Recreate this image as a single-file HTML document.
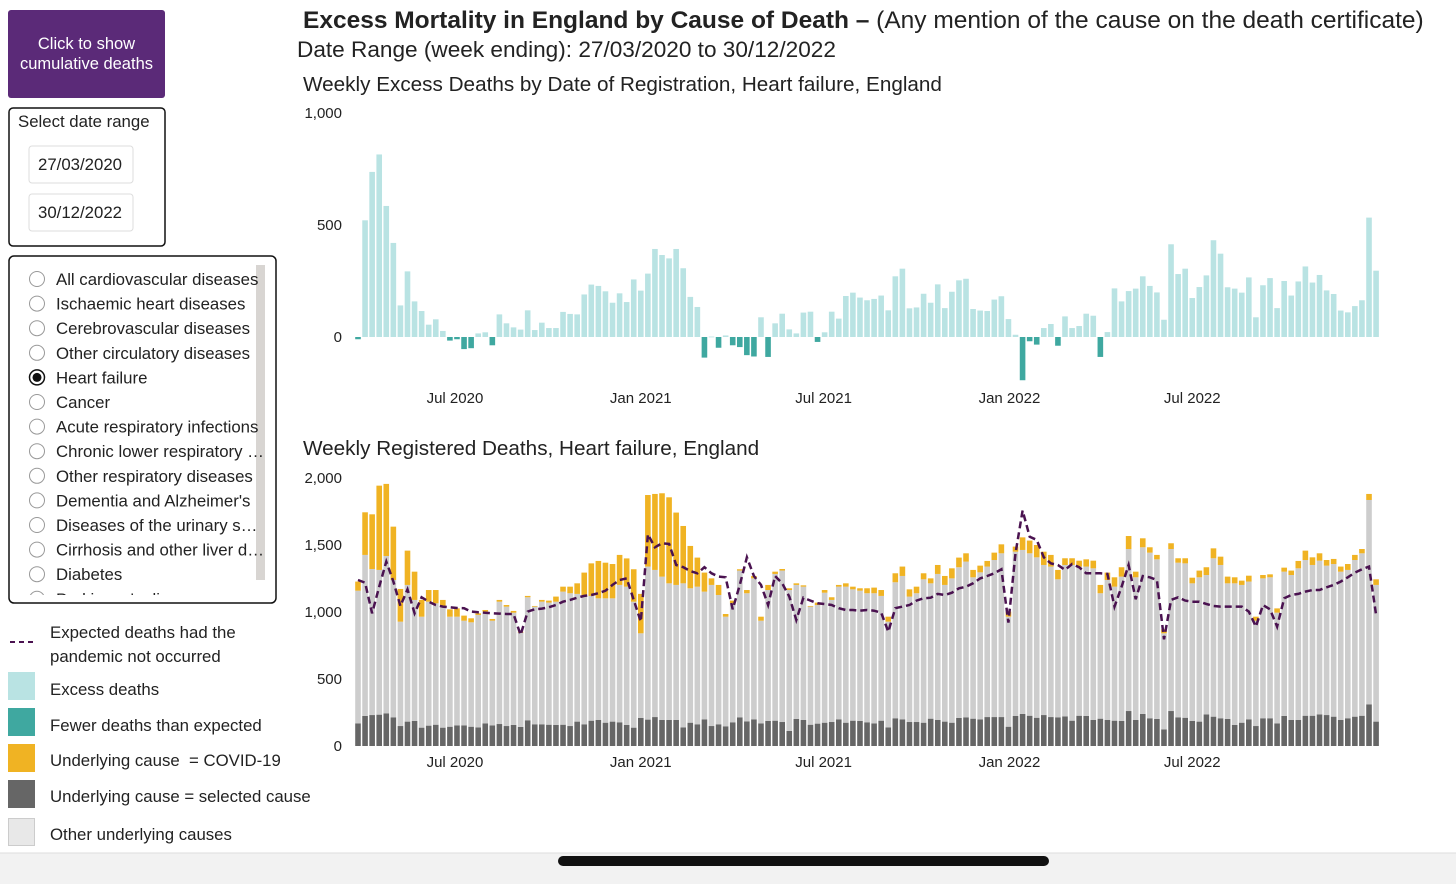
<!DOCTYPE html>
<html><head><meta charset="utf-8"><style>
body{margin:0;background:#fff;font-family:"Liberation Sans",Arial,sans-serif;}
svg{display:block}
text{font-family:"Liberation Sans",Arial,sans-serif;fill:#222}
</style></head><body>
<svg id="s" width="1456" height="884" viewBox="0 0 1456 884">
<g>
<rect x="8" y="10" width="157" height="88" rx="3" fill="#5b2a78"/>
<text x="86.5" y="49" text-anchor="middle" font-size="16.5" style="fill:#fff">Click to show</text>
<text x="86.5" y="69" text-anchor="middle" font-size="16.5" style="fill:#fff">cumulative deaths</text>
</g>
<g>
<rect x="9" y="108" width="156" height="138" rx="4" fill="#fff" stroke="#111" stroke-width="1.5"/>
<text x="18" y="127" font-size="16.8">Select date range</text>
<g><rect x="29" y="146" width="104" height="37" rx="3" fill="#fff" stroke="#ddd"/><text x="38" y="170" font-size="16.8">27/03/2020</text></g>
<g><rect x="29" y="194" width="104" height="37" rx="3" fill="#fff" stroke="#ddd"/><text x="38" y="218" font-size="16.8">30/12/2022</text></g>
</g>
<g>
<rect x="9" y="256" width="267" height="347" rx="5" fill="#fff" stroke="#111" stroke-width="1.5"/>
<rect x="256" y="265" width="9" height="315" fill="#d8d5d2"/>
<g id="radios"></g>
</g>
<g>
<line x1="10" y1="642" x2="37" y2="642" stroke="#4a1250" stroke-width="2" stroke-dasharray="5,4"/>
<text x="50" y="638" font-size="16.8">Expected deaths had the</text>
<text x="50" y="662" font-size="16.8">pandemic not occurred</text>
<rect x="8" y="672" width="27" height="28" fill="#b9e3e3"/><text x="50" y="695" font-size="16.8">Excess deaths</text>
<rect x="8" y="708" width="27" height="28" fill="#3fa8a0"/><text x="50" y="731" font-size="16.8">Fewer deaths than expected</text>
<rect x="8" y="744" width="27" height="28" fill="#f0b323"/><text x="50" y="766" font-size="16.8" xml:space="preserve">Underlying cause  = COVID-19</text>
<rect x="8" y="780" width="27" height="28" fill="#666"/><text x="50" y="802" font-size="16.8">Underlying cause = selected cause</text>
<rect x="8.5" y="818.5" width="26" height="27" fill="#e8e8e8" stroke="#ccc"/><text x="50" y="840" font-size="16.8">Other underlying causes</text>
</g>
<text x="303" y="28" font-size="24.5"><tspan font-weight="bold">Excess Mortality in England by Cause of Death –</tspan> (Any mention of the cause on the death certificate)</text>
<text x="297" y="57" font-size="22.6">Date Range (week ending): 27/03/2020 to 30/12/2022</text>
<text x="303" y="91" font-size="20.7">Weekly Excess Deaths by Date of Registration, Heart failure, England</text>
<text x="303" y="455" font-size="20.7">Weekly Registered Deaths, Heart failure, England</text>
<g id="gtop"></g>
<g id="gbot"></g>
<rect x="0" y="853" width="1456" height="31" fill="#f2f2f2"/>
<line x1="0" y1="853" x2="1456" y2="853" stroke="#ddd"/>
<rect x="558" y="856" width="491" height="10" rx="5" fill="#111"/>
</svg>
<script>
const causes=["All cardiovascular diseases","Ischaemic heart diseases","Cerebrovascular diseases","Other circulatory diseases","Heart failure","Cancer","Acute respiratory infections","Chronic lower respiratory …","Other respiratory diseases","Dementia and Alzheimer's","Diseases of the urinary s…","Cirrhosis and other liver d…","Diabetes","Parkinson's disease"];
const excess=[-10,521,737,815,585,420,141,293,159,116,55,79,27,-16,-10,-54,-50,16,21,-37,101,61,43,33,119,31,64,40,40,112,103,101,190,234,228,204,153,195,156,257,207,283,393,366,351,393,307,179,134,-92,2,-48,7,-37,-45,-81,-87,88,-89,61,104,34,16,109,113,-22,21,113,82,183,198,176,164,170,185,119,271,305,128,132,193,153,235,129,202,253,260,125,118,116,167,182,80,10,-193,-19,-34,40,58,-39,92,40,49,104,95,-89,22,217,159,205,216,271,228,199,77,414,281,305,174,223,275,432,372,222,216,198,266,88,231,263,129,250,185,248,315,243,277,208,192,118,110,138,164,533,296];
const selectedCause=[169,224,231,234,244,214,149,182,187,137,152,159,137,144,154,154,144,139,169,154,164,149,157,142,192,162,162,159,157,159,149,182,162,189,194,174,182,177,157,137,209,197,216,194,194,194,139,174,162,199,149,162,147,177,214,184,199,169,187,189,179,112,202,194,159,167,174,179,199,174,189,187,177,169,189,139,207,199,179,179,174,204,194,182,174,209,214,204,199,216,216,216,144,224,239,226,211,231,216,214,221,189,226,224,194,204,194,189,187,261,194,239,207,202,124,261,214,211,187,182,236,219,207,202,157,174,199,149,207,207,169,224,194,194,226,226,236,231,219,194,207,219,226,311,182];
const otherCauses=[990,1202,1090,1080,1174,1025,779,1020,903,828,925,906,903,821,811,781,779,839,834,781,913,891,838,704,918,878,915,911,920,993,991,953,965,931,908,928,920,1025,1032,940,632,1142,1098,1070,1020,1008,1075,1003,1027,953,1053,965,818,888,1095,956,1052,766,977,1095,1130,1052,1000,995,881,885,970,911,990,1015,980,972,963,971,931,789,1015,1070,936,961,1070,1010,1090,1020,1077,1125,1162,1055,1097,1123,1172,1222,821,1226,1224,1212,1197,1120,1123,1030,1130,1162,1113,1115,1132,936,1045,1000,1077,1209,1065,1244,1236,1191,717,1209,1154,1152,1027,1077,1040,1182,1144,1012,1057,1028,1028,786,1044,1052,826,1077,1082,1132,1162,1125,1147,1115,1139,1107,1107,1169,1212,1525,1020];
const covid=[68,318,408,629,538,398,244,256,211,125,87,99,50,55,62,38,30,12,12,13,13,12,13,7,10,5,13,15,38,37,49,79,167,243,279,266,256,224,211,242,294,534,567,622,642,540,428,316,217,142,49,75,20,20,10,24,18,30,38,17,12,13,12,10,5,18,20,20,13,25,20,18,37,42,44,37,67,70,54,49,45,37,67,67,75,72,62,55,50,42,55,67,38,38,94,95,92,99,87,70,50,50,44,54,57,62,55,70,70,97,42,67,40,33,30,43,33,38,42,50,58,74,62,50,45,32,44,30,25,22,32,30,33,55,70,57,55,42,38,38,44,38,32,45,42];
const expected=[1239,1219,990,1189,1376,1227,1045,1169,990,1110,1077,1052,1040,1035,1030,1028,1003,998,995,990,988,985,985,829,1003,1020,1025,1035,1052,1077,1090,1107,1120,1127,1140,1159,1202,1239,1251,1090,928,1580,1483,1513,1508,1351,1334,1306,1289,1334,1289,1264,1259,1020,1202,1408,1269,1202,1052,1269,1214,1115,940,1107,1085,1065,1060,1052,1028,1015,1015,1010,1015,1010,995,853,1028,1040,1052,1085,1102,1107,1135,1127,1144,1177,1189,1214,1251,1269,1289,1319,921,1438,1757,1562,1538,1408,1363,1351,1314,1358,1334,1289,1289,1289,1284,1040,1189,1351,1095,1269,1259,1239,796,1090,1110,1085,1077,1077,1060,1045,1040,1040,1040,1040,1003,891,1052,1020,891,1102,1127,1135,1152,1164,1164,1184,1202,1227,1259,1294,1319,1339,978];
const topTicks=[0,500,1000];
const topTickLabels=["0","500","1,000"];
const botTicks=[0,500,1000,1500,2000];
const botTickLabels=["0","500","1,000","1,500","2,000"];
const monthTicks=["2020-07-01","2021-01-01","2021-07-01","2022-01-01","2022-07-01"];
const monthLabels=["Jul 2020","Jan 2021","Jul 2021","Jan 2022","Jul 2022"];
const startDate="2020-03-27";

const NS="http://www.w3.org/2000/svg";
function mk(tag,attrs,parent){const e=document.createElementNS(NS,tag);for(const k in attrs)e.setAttribute(k,attrs[k]);parent.appendChild(e);return e;}
const xPos=i=>358+i*7.07;
const xDate=d=>xPos((Date.parse(d)-Date.parse(startDate))/86400000/7);
const yTop=v=>337-v*0.224;
const yBot=v=>746-v*0.134;
const BW=5.6;

const svgEl=document.getElementById('s');
const defs=mk('defs',{},svgEl);
const cp=mk('clipPath',{id:'clipList'},defs);mk('rect',{x:10,y:257,width:265,height:338},cp);
const rg=document.getElementById('radios');
rg.setAttribute('clip-path','url(#clipList)');
causes.forEach((c,i)=>{
  const g=mk('g',{},rg);
  
  
  const cy=279+i*24.6;
  if(c==="Heart failure"){mk('circle',{cx:37,cy:cy,r:7.5,fill:'#fff',stroke:'#111','stroke-width':1.5},g);mk('circle',{cx:37,cy:cy,r:4.5,fill:'#111'},g);}
  else mk('circle',{cx:37,cy:cy,r:7.5,fill:'#fff',stroke:'#999','stroke-width':1},g);
  const t=mk('text',{x:56,y:cy+6,'font-size':16.8},g);t.textContent=c;
});

const gTop=document.getElementById('gtop');
topTicks.forEach((v,i)=>{const t=mk('text',{x:342,y:yTop(v)+5,'font-size':15,'text-anchor':'end'},gTop);t.textContent=topTickLabels[i];
 
 });
excess.forEach((v,i)=>{
  const r=mk('rect',{x:xPos(i)-BW/2,y:Math.min(yTop(v),yTop(0)),width:BW,height:Math.max(Math.abs(v)*0.224,0.8),fill:v>=0?'#b9e3e3':'#3fa8a0'},gTop);
  
  
});
monthTicks.forEach((d,i)=>{const t=mk('text',{x:xDate(d),y:403,'font-size':15,'text-anchor':'middle'},gTop);t.textContent=monthLabels[i];
 
 });

const gBot=document.getElementById('gbot');
botTicks.forEach((v,i)=>{const t=mk('text',{x:342,y:yBot(v)+5,'font-size':15,'text-anchor':'end'},gBot);t.textContent=botTickLabels[i];
 
 });
selectedCause.forEach((v,i)=>{
  const a=v,b=a+otherCauses[i],c=b+covid[i];
  const r1=mk('rect',{x:xPos(i)-BW/2,y:yBot(a),width:BW,height:a*0.134,fill:'#666'},gBot);
  
  
  const r2=mk('rect',{x:xPos(i)-BW/2,y:yBot(b),width:BW,height:otherCauses[i]*0.134,fill:'#cdcdcd'},gBot);
  
  
  const r3=mk('rect',{x:xPos(i)-BW/2,y:yBot(c),width:BW,height:covid[i]*0.134,fill:'#f0b323'},gBot);
  
  
});
const pts=expected.map((v,i)=>xPos(i).toFixed(1)+','+yBot(v).toFixed(1)).join(' ');
const pl=mk('polyline',{points:pts,fill:'none',stroke:'#4a1250','stroke-width':2.5,'stroke-dasharray':'7,4'},gBot);


monthTicks.forEach((d,i)=>{const t=mk('text',{x:xDate(d),y:767,'font-size':15,'text-anchor':'middle'},gBot);t.textContent=monthLabels[i];
 
 });
</script>
</body></html>
